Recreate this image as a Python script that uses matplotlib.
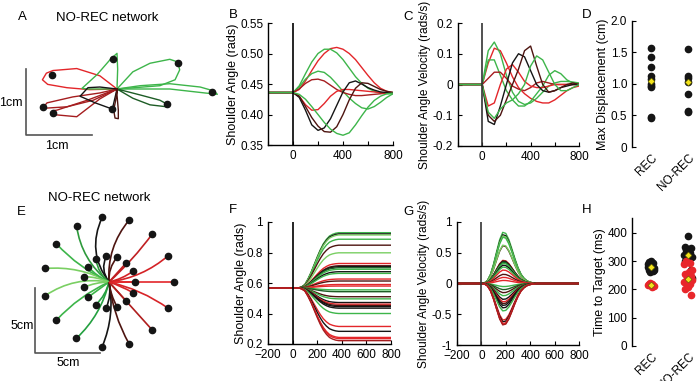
import numpy as np
import matplotlib
matplotlib.use("Agg")
import matplotlib.pyplot as plt
from matplotlib.path import Path
from matplotlib.patches import PathPatch

plt.rcParams["font.family"] = ["Liberation Sans", "DejaVu Sans"]
plt.rcParams["font.size"] = 8.5
plt.rcParams["xtick.direction"] = "in"
plt.rcParams["ytick.direction"] = "in"
plt.rcParams["xtick.major.size"] = 3
plt.rcParams["ytick.major.size"] = 3
plt.rcParams["axes.linewidth"] = 1.0

RED = "#e3262a"
DRED = "#a51d1f"
DDRED = "#4d1410"
BLACK = "#151515"
DGREEN = "#1d5c25"
GREEN = "#3db54a"
LGREEN = "#7acf63"

# ---------------- panel A: hand paths (cm, relative to start) ----------------
a_paths = [
    [(0, 0), (-0.41, -0.01), (-0.76, 0.02), (-1.05, 0.07), (-1.13, 0.14), (-1.07, 0.24),
     (-0.97, 0.28), (-0.61, 0.31), (-0.26, 0.2), (0, 0)],
    [(0, 0), (0.01, 0.3), (0, 0.54), (-0.1, 0.45), (-0.3, 0.22), (-0.53, 0.01),
     (-0.45, 0.0), (-0.2, 0.0), (0, 0)],
    [(0, 0), (0.24, 0.26), (0.5, 0.39), (0.8, 0.45), (0.92, 0.41), (0.95, 0.29),
     (0.88, 0.14), (0.65, 0.05), (0.27, 0.02), (0, 0)],
    [(0, 0), (0.35, 0.05), (0.8, 0.08), (1.26, 0.03), (1.47, -0.03), (1.52, -0.08),
     (1.33, -0.06), (0.8, 0.0), (0, 0)],
    [(0, 0), (0.24, -0.14), (0.5, -0.24), (0.76, -0.27), (0.76, -0.23), (0.65, -0.17),
     (0.35, -0.09), (0, 0)],
    [(0, 0), (-0.26, -0.06), (-0.67, -0.12), (-1.06, -0.21), (-1.12, -0.28),
     (-1.08, -0.29), (-0.76, -0.27), (-0.36, -0.17), (0, 0)],
    [(0, 0), (-0.26, -0.15), (-0.61, -0.42), (-0.94, -0.39), (-0.97, -0.33),
     (-0.91, -0.32), (-0.45, -0.17), (0, 0)],
    [(0, 0), (-0.26, 0.03), (-0.44, 0.02), (-0.56, -0.11), (-0.33, -0.21),
     (-0.11, -0.29), (-0.06, -0.26), (0, 0)],
    [(0, 0), (-0.02, -0.17), (-0.05, -0.32), (-0.03, -0.44), (0.02, -0.45),
     (0.02, -0.32), (0, -0.09), (0, 0)],
]
a_colors = [RED, GREEN, GREEN, GREEN, DGREEN, DRED, DRED, BLACK, DDRED]
a_targets_x = [-0.98, -0.06, 0.92, 1.44, 0.76, -1.12, -0.97, -0.08]
a_targets_y = [0.21, 0.45, 0.39, -0.05, -0.23, -0.27, -0.36, -0.30]

# ---------------- panel B / C: shoulder angle and velocity ----------------
t_bc = np.arange(-200, 801, 50)
b_curves = [
    [.436, .436, .436, .436, .436, .441, .455, .472, .488, .500, .508, .510, .507, .500, .490, .477, .464, .452, .443, .438, .436],
    [.436, .436, .436, .436, .436, .447, .467, .486, .500, .507, .507, .501, .490, .476, .462, .451, .443, .438, .435, .434, .434],
    [.436, .436, .436, .436, .436, .445, .458, .467, .471, .469, .461, .450, .438, .427, .418, .411, .409, .413, .420, .428, .434],
    [.436, .436, .436, .436, .436, .442, .451, .457, .458, .455, .448, .441, .436, .433, .431, .431, .432, .433, .434, .435, .435],
    [.436, .436, .436, .436, .436, .430, .416, .407, .408, .418, .430, .438, .441, .441, .440, .439, .438, .437, .436, .435, .435],
    [.436, .436, .436, .436, .436, .428, .407, .383, .374, .378, .393, .415, .437, .452, .455, .450, .444, .440, .437, .436, .436],
    [.436, .436, .436, .436, .436, .430, .413, .395, .381, .372, .371, .380, .400, .424, .443, .452, .451, .446, .441, .438, .436],
    [.436, .436, .436, .436, .436, .433, .425, .413, .400, .387, .376, .369, .366, .370, .383, .398, .412, .423, .430, .434, .435],
]
c_curves = [
    [0, 0, 0, 0, 0, .07, .118, .11, .07, .025, -.01, -.03, -.045, -.055, -.06, -.06, -.05, -.035, -.02, -.01, -.005],
    [0, 0, 0, 0, 0, .11, .138, .10, .03, -.025, -.055, -.065, -.06, -.045, -.025, -.005, .005, .01, .01, .008, .005],
    [0, 0, 0, 0, 0, .08, .08, .03, -.02, -.05, -.07, -.07, -.055, -.03, -.005, .03, .045, .035, .015, .005, 0],
    [0, 0, 0, 0, 0, .02, .04, .04, .02, -.005, -.015, -.02, -.01, .005, .01, .005, 0, 0, 0, 0, 0],
    [0, 0, 0, 0, 0, -.07, -.06, 0, .05, .065, .04, .01, -.005, -.01, -.01, -.005, 0, 0, 0, 0, 0],
    [0, 0, 0, 0, 0, -.12, -.13, -.07, 0, .07, .10, .09, .045, 0, -.02, -.025, -.02, -.01, -.005, 0, 0],
    [0, 0, 0, 0, 0, -.10, -.12, -.10, -.05, 0, .05, .11, .125, .06, 0, -.025, -.02, -.01, 0, .005, 0],
    [0, 0, 0, 0, 0, -.09, -.11, -.08, -.06, -.05, -.03, 0, .06, .093, .08, .04, 0, -.02, -.02, -.01, 0],
]
bc_colors = [RED, GREEN, GREEN, DRED, RED, BLACK, DDRED, GREEN]

# ---------------- panel D ----------------
d_cats = ["REC", "NO-REC"]
d_rec = [1.57, 1.43, 1.27, 1.12, 1.08, 1.00, 0.97, 0.95, 0.48, 0.46]
d_norec = [1.55, 1.13, 1.10, 1.03, 0.84, 0.57, 0.55]
d_means = [1.04, 1.03]

# ---------------- panel E: center-out reaches ----------------
e_angles = [0, 24, 48, 72, 96, 120, 144, 168, 192, 216, 240, 264, 288, 312, 336]
e_inner_r = 2.0
e_outer_r = 5.0
e_outer_curl = [0.0, -0.15, -0.05, 0.2, 0.3, 0.2, 0.1, -0.15, -0.2, -0.1, 0.15, 0.15, -0.1, 0.0, 0.1]
e_inner_curl = [0.0, -0.1, 0.0, 0.2, 0.3, 0.2, 0.1, -0.1, -0.1, 0.0, 0.15, 0.15, -0.1, 0.0, 0.05]
e_colors = [RED, "#d42226", "#c01f22", DDRED, BLACK, "#2e9a3c", GREEN, LGREEN, LGREEN,
            GREEN, "#24a040", BLACK, DDRED, "#b01e1e", "#d82428"]

# ---------------- panel F / G ----------------
t_fg = np.arange(-200, 801, 25)
f_start = 0.568
f_profile = [0] * 11 + [0.02, 0.06, 0.16, 0.28, 0.42, 0.56, 0.69, 0.80, 0.88, 0.94, 0.97, 0.99, 1.0] + [1.0] * 17
g_profile = [0] * 9 + [0.01, 0.06, 0.18, 0.38, 0.62, 0.85, 0.99, 0.97, 0.85, 0.67, 0.48, 0.31,
                      0.18, 0.10, 0.05, 0.025, 0.01] + [0] * 15
f_final = [0.930, 0.922, 0.915, 0.887, 0.848, 0.798, 0.728, 0.713, 0.707, 0.700, 0.690, 0.674,
           0.663, 0.626, 0.613, 0.590, 0.580, 0.555, 0.543, 0.510, 0.496, 0.472, 0.461, 0.452,
           0.445, 0.435, 0.400, 0.315, 0.283, 0.243, 0.235, 0.222]
g_peak = [0.84, 0.80, 0.78, 0.76, 0.62, 0.63, 0.38, 0.37, 0.36, 0.35, 0.33, 0.30, 0.27, 0.22,
          0.15, 0.10, 0.05, -0.05, -0.10, -0.15, -0.20, -0.26, -0.30, -0.33, -0.36, -0.40,
          -0.45, -0.60, -0.63, -0.66, -0.67, -0.68]
fg_colors = [GREEN, BLACK, LGREEN, GREEN, DDRED, LGREEN, RED, DDRED, BLACK, DGREEN, GREEN,
             BLACK, GREEN, RED, DDRED, RED, RED, GREEN, DGREEN, DDRED, GREEN, BLACK, RED,
             DDRED, BLACK, BLACK, GREEN, RED, BLACK, RED, RED, DRED]

# ---------------- panel H ----------------
h_rec_black = [300, 296, 292, 288, 284, 280, 276, 272, 268, 265, 262, 270, 290]
h_rec_red = [222, 218, 215, 212, 210, 220]
h_norec_black = [390, 350, 345, 338, 330, 322, 315, 308, 300, 270, 250, 240]
h_norec_red = [300, 292, 288, 270, 262, 255, 248, 240, 232, 225, 218, 210, 200, 180]
h_means_black = [280, 320]
h_means_red = [216, 235]
jitter = [0.0, -0.06, 0.06, -0.03, 0.04, -0.08, 0.08, 0.02, -0.05, 0.05, -0.02, 0.07, -0.07, 0.03]

W, H = 698, 381
fig = plt.figure(figsize=(W / 100, H / 100), dpi=100)


def px_axes(left, top, right, bottom):
    return fig.add_axes([left / W, 1 - bottom / H, (right - left) / W, (bottom - top) / H])


def style(ax):
    ax.spines["top"].set_visible(False)
    ax.spines["right"].set_visible(False)


def label(x, y, s, size=9.5):
    fig.text(x / W, 1 - y / H, s, fontsize=size, ha="center", va="center")


# A
axA = px_axes(0, 30, 230, 160)
axA.set_xlim(-117 / 66, 113 / 66)
axA.set_ylim(-71 / 66, 59 / 66)
axA.axis("off")
for pts, c in zip(a_paths, a_colors):
    xs, ys = zip(*pts)
    axA.plot(xs, ys, color=c, lw=1.0)
axA.plot(a_targets_x, a_targets_y, "o", color=BLACK, ms=4.5, zorder=5)
axA.plot([-1.38, -1.38, -0.38], [0.30, -0.70, -0.70], color="#555555", lw=1.2)
axA.text(-1.43, -0.21, "1cm", ha="right", va="center", fontsize=9)
axA.text(-0.91, -0.86, "1cm", ha="center", va="center", fontsize=9)

# B
axB = px_axes(268, 23, 393, 145)
for ys, c in zip(b_curves, bc_colors):
    axB.plot(t_bc, ys, color=c, lw=1.0)
axB.axvline(0, color="k", lw=1.2)
axB.set_xlim(-200, 800)
axB.set_ylim(0.35, 0.55)
axB.set_xticks([-200, 0, 200, 400, 600, 800])
axB.set_xticklabels(["", "0", "", "400", "", "800"])
axB.set_yticks([0.35, 0.40, 0.45, 0.50, 0.55])
axB.set_yticklabels(["0.35", "0.40", "0.45", "0.50", "0.55"])
axB.set_ylabel("Shoulder Angle (rads)", fontsize=9, labelpad=1)
style(axB)

# C
axC = px_axes(458, 23, 579, 146)
for ys, c in zip(c_curves, bc_colors):
    axC.plot(t_bc, ys, color=c, lw=1.0)
axC.axvline(0, color="#333333", lw=1.2)
axC.set_xlim(-200, 800)
axC.set_ylim(-0.2, 0.2)
axC.set_xticks([-200, 0, 200, 400, 600, 800])
axC.set_xticklabels(["", "0", "", "400", "", "800"])
axC.set_yticks([-0.2, -0.1, 0, 0.1, 0.2])
axC.set_yticklabels(["-0.2", "-0.1", "0", "0.1", "0.2"])
axC.set_ylabel("Shoulder Angle Velocity (rads/s)", fontsize=8.6, labelpad=1)
style(axC)

# D
axD = px_axes(632, 21, 698, 147)
for i, vals in enumerate([d_rec, d_norec]):
    axD.plot([i + 1] * len(vals), vals, "o", color=BLACK, ms=4.5)
    axD.plot(i + 1, d_means[i], "D", color="#f2e21a", mec="#555500", mew=0.4, ms=3.5, zorder=5)
axD.set_xlim(0.49, 2.27)
axD.set_ylim(0, 2.0)
axD.set_yticks([0, 0.5, 1.0, 1.5, 2.0])
axD.set_yticklabels(["0", "0.5", "1.0", "1.5", "2.0"])
axD.set_xticks([1, 2])
axD.set_xticklabels(d_cats, rotation=45, ha="right", rotation_mode="anchor")
axD.tick_params(axis="x", length=0)
axD.spines["bottom"].set_visible(False)
axD.set_ylabel("Max Displacement (cm)", fontsize=9, labelpad=1)
style(axD)

# E
axE = px_axes(0, 205, 230, 375)
axE.set_xlim(-109 / 13, 121 / 13)
axE.set_ylim(-93 / 13, 77 / 13)
axE.axis("off")
for r, curls in [(e_outer_r, e_outer_curl), (e_inner_r, e_inner_curl)]:
    for ang, cu, c in zip(e_angles, curls, e_colors):
        a = np.deg2rad(ang)
        tx, ty = r * np.cos(a), r * np.sin(a)
        cx = tx / 2 - cu * ty
        cy = ty / 2 + cu * tx
        path = Path([(0, 0), (cx, cy), (tx, ty)], [Path.MOVETO, Path.CURVE3, Path.CURVE3])
        axE.add_patch(PathPatch(path, fc="none", ec=c, lw=1.2))
        axE.plot(tx, ty, "o", color=BLACK, ms=4.5, zorder=5)
axE.plot([-5.69, -5.69, -0.69], [-0.46, -5.46, -5.46], color="#555555", lw=1.2)
axE.text(-5.75, -3.4, "5cm", ha="right", va="center", fontsize=9)
axE.text(-3.1, -6.2, "5cm", ha="center", va="center", fontsize=9)

# F
axF = px_axes(268, 222, 391, 344)
for fin, c in zip(f_final, fg_colors):
    axF.plot(t_fg, f_start + (fin - f_start) * np.array(f_profile), color=c, lw=1.0)
axF.axvline(0, color="k", lw=1.2)
axF.set_xlim(-200, 800)
axF.set_ylim(0.2, 1.0)
axF.set_xticks([-200, 0, 200, 400, 600, 800])
axF.set_yticks([0.2, 0.4, 0.6, 0.8, 1.0])
axF.set_yticklabels(["0.2", "0.4", "0.6", "0.8", "1"])
axF.set_ylabel("Shoulder Angle (rads)", fontsize=9, labelpad=0)
style(axF)

# G
axG = px_axes(457, 222, 579, 345)
for pk, c in zip(g_peak, fg_colors):
    axG.plot(t_fg, pk * np.array(g_profile), color=c, lw=1.0)
axG.axvline(0, color="#333333", lw=1.2)
axG.set_xlim(-200, 800)
axG.set_ylim(-1, 1)
axG.set_xticks([-200, 0, 200, 400, 600, 800])
axG.set_yticks([-1, -0.5, 0, 0.5, 1])
axG.set_yticklabels(["-1", "-0.5", "0", "0.5", "1"])
axG.set_ylabel("Shoulder Angle Velocity (rads/s)", fontsize=8.6, labelpad=1)
style(axG)

# H
axH = px_axes(632, 218, 698, 346)
for i, (blk, red) in enumerate([(h_rec_black, h_rec_red), (h_norec_black, h_norec_red)]):
    spread = 1.0 if i == 0 else 1.4
    xb = [i + 1 + spread * jitter[k % len(jitter)] for k in range(len(blk))]
    xr = [i + 1 + spread * jitter[(k + 3) % len(jitter)] for k in range(len(red))]
    axH.plot(xb, blk, "o", color=BLACK, ms=4.5)
    axH.plot(xr, red, "o", color="#e8262a", ms=4.5)
    axH.plot(i + 1, h_means_black[i], "D", color="#f2e21a", mec="#555500", mew=0.4, ms=3.5, zorder=5)
    axH.plot(i + 1, h_means_red[i], "D", color="#f2e21a", mec="#555500", mew=0.4, ms=3.5, zorder=5)
axH.set_xlim(0.49, 2.27)
axH.set_ylim(0, 452)
axH.set_yticks([0, 100, 200, 300, 400])
axH.set_xticks([1, 2])
axH.set_xticklabels(d_cats, rotation=45, ha="right", rotation_mode="anchor")
axH.tick_params(axis="x", length=0)
axH.spines["bottom"].set_visible(False)
axH.set_ylabel("Time to Target (ms)", fontsize=9, labelpad=1)
style(axH)

# panel letters and titles
label(22, 17, "A")
label(107, 18, "NO-REC network")
label(233, 15, "B")
label(408, 17, "C")
label(587, 15, "D")
label(21, 212, "E")
label(99, 198, "NO-REC network")
label(233, 210, "F")
label(408, 212, "G")
label(587, 210, "H")

fig.savefig("out.png", dpi=100)
